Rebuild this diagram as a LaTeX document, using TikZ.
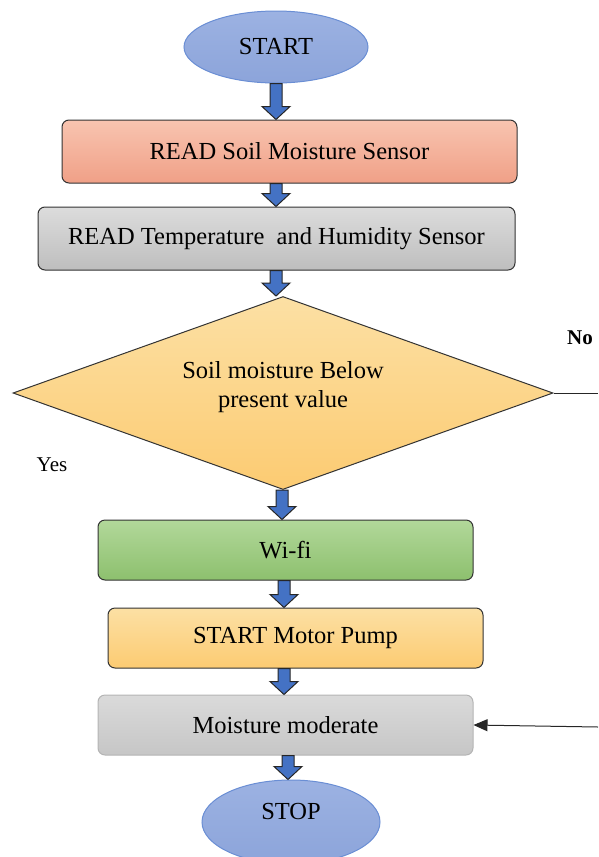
\documentclass[tikz,border=0pt]{standalone}
\usepackage{fontspec}
\setmainfont{Liberation Serif}
\newfontfamily\tnr{Liberation Serif}
\usetikzlibrary{shapes.geometric,calc,arrows.meta}
\definecolor{ellfill}{HTML}{9CB2E2}
\definecolor{ellfillb}{HTML}{8CA4DA}
\definecolor{elldraw}{HTML}{6A8ED4}
\definecolor{salmonA}{HTML}{F8C4B0}
\definecolor{salmonB}{HTML}{F0A087}
\definecolor{grayA}{HTML}{DCDCDC}
\definecolor{grayB}{HTML}{BEBEBE}
\definecolor{orangeA}{HTML}{FCE0A4}
\definecolor{orangeB}{HTML}{FCCB72}
\definecolor{greenA}{HTML}{B2D89A}
\definecolor{greenB}{HTML}{8DC06E}
\definecolor{lgrayA}{HTML}{DADADA}
\definecolor{lgrayB}{HTML}{C6C6C6}
\definecolor{lgrayD}{HTML}{B4B4B4}
\definecolor{arrblue}{HTML}{4472C4}
\tikzset{
  every node/.style={font=\tnr\fontsize{24.5}{29}\selectfont},
  oval/.style={ellipse, draw=elldraw, line width=1pt, top color=ellfill, bottom color=ellfillb, inner sep=0pt},
  procbox/.style={rectangle, rounded corners=7pt, draw=black!80, line width=1pt, inner sep=0pt},
  fatarrow/.style={draw=black!85, line width=1pt, fill=arrblue, line join=miter},
  lbl/.style={inner sep=0pt}
}
\newcommand\fatarr[3]{%
  \draw[fatarrow] let \p1=(#2), \p2=(#3) in
   (#1-6pt,\y1) -- (#1+6pt,\y1) -- (#1+6pt,\y2+13pt) -- (#1+14pt,\y2+13pt) --
   (#1,\y2) -- (#1-14pt,\y2+13pt) -- (#1-6pt,\y2+13pt) -- cycle;}
\begin{document}
\begin{tikzpicture}[x=1pt,y=-1pt]
\useasboundingbox (0,0) rectangle (598,857);
\node[oval, minimum width=184pt, minimum height=72pt] (start) at (276,47) {START};
\node[procbox, top color=salmonA, bottom color=salmonB, minimum width=455pt, minimum height=63pt] (read1) at (289.5,151.5) {READ Soil Moisture Sensor};
\node[procbox, top color=grayA, bottom color=grayB, minimum width=477pt, minimum height=63pt] (read2) at (276.5,238.5) {READ Temperature\ \ and Humidity Sensor};
\node[diamond, draw=black!80, line width=1pt, top color=orangeA, bottom color=orangeB, aspect=2.8, minimum width=540pt, minimum height=193pt, inner sep=0pt, align=center] (dec) at (283,393) {Soil moisture Below\\present value\\[-11pt]\mbox{}};
\node[procbox, top color=greenA, bottom color=greenB, minimum width=375pt, minimum height=60pt] (wifi) at (285.5,550) {Wi-fi};
\node[procbox, top color=orangeA, bottom color=orangeB, minimum width=375pt, minimum height=60pt] (pump) at (295.5,638) {START Motor Pump};
\node[procbox, draw=lgrayD, top color=lgrayA, bottom color=lgrayB, minimum width=375pt, minimum height=60pt] (moder) at (285.5,725) {Moisture moderate};
\node[oval, minimum width=178pt, minimum height=84pt] (stop) at (291,822) {};
\node[lbl] (stoptxt) at (291,811) {STOP};
\node[lbl, font=\tnr\fontsize{21}{24}\selectfont\bfseries] (no) at (580,338) {No};
\node[lbl, font=\tnr\fontsize{21}{24}\selectfont] (yes) at (52,465) {Yes};
\coordinate (noA) at (598,393);
\coordinate (noB) at (598,727);
\fatarr{276pt}{start.south}{read1.north}
\fatarr{276pt}{read1.south}{read2.north}
\fatarr{276pt}{read2.south}{dec.north}
\fatarr{282pt}{dec.south}{wifi.north}
\fatarr{284pt}{wifi.south}{pump.north}
\fatarr{284pt}{pump.south}{moder.north}
\fatarr{288pt}{moder.south}{stop.north}
\draw[line width=1pt, black!85] (dec.east) -- (noA);
\draw[line width=1pt, black!85, -{Triangle[length=14pt,width=12pt]}] (noB) -- (moder.east);
\end{tikzpicture}
\end{document}
